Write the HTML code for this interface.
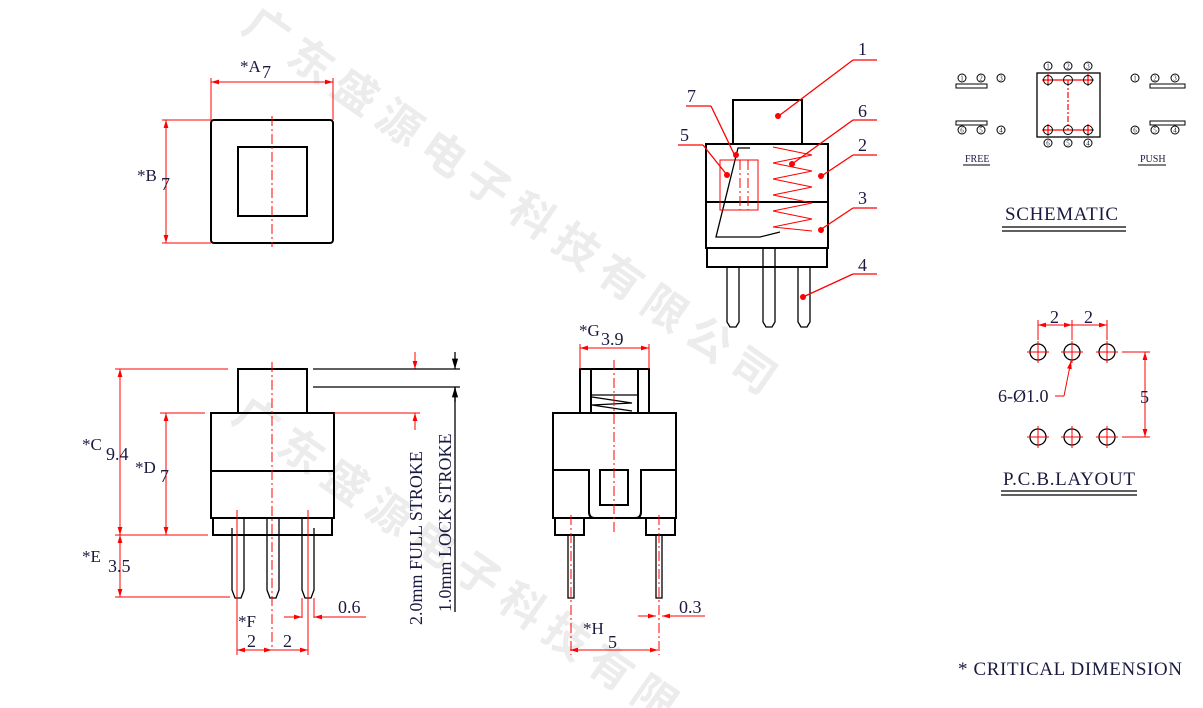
<!DOCTYPE html>
<html><head><meta charset="utf-8"><style>
html,body{margin:0;padding:0;background:#fff;width:1203px;height:708px;overflow:hidden;}
svg{display:block;}
text{font-family:"Liberation Serif",serif;fill:#1a1a40;}
.wm text{font-family:"Noto Sans CJK SC",sans-serif;fill:#ececec;font-weight:bold;}
.k{stroke:#000;stroke-width:2;fill:none;}
.k1{stroke:#000;stroke-width:1.3;fill:none;}
.r{stroke:#f00;stroke-width:1;fill:none;}
.rc{stroke:#f00;stroke-width:1;fill:none;stroke-dasharray:10 3 2 3;}
.rf{fill:#f00;stroke:none;}
</style></head><body>
<svg width="1203" height="708" viewBox="0 0 1203 708" xmlns="http://www.w3.org/2000/svg">
<defs>
<marker id="a" viewBox="0 0 10 10" refX="10" refY="5" markerWidth="8" markerHeight="8" orient="auto-start-reverse"><path d="M0,2 L10,5 L0,8 z" fill="#f00"/></marker>
<marker id="ak" viewBox="0 0 10 10" refX="10" refY="5" markerWidth="8" markerHeight="8" orient="auto-start-reverse"><path d="M0,2 L10,5 L0,8 z" fill="#000"/></marker>
</defs>
<!-- watermark -->
<g class="wm" font-size="44">
<text transform="translate(240,30) rotate(35)">广 东 盛 源 电 子 科 技 有 限 公 司</text>
<text transform="translate(230,420) rotate(35)">广 东 盛 源 电 子 科 技 有 限</text>
</g>

<!-- TOP VIEW -->
<rect class="k" x="211" y="120" width="122" height="123" rx="3"/>
<rect class="k" x="238" y="147" width="69" height="69"/>
<line class="rc" x1="272" y1="116" x2="272" y2="247"/>
<line class="r" x1="211" y1="120" x2="211" y2="78"/><line class="r" x1="333" y1="120" x2="333" y2="78"/>
<line class="r" x1="211" y1="82" x2="333" y2="82" marker-start="url(#a)" marker-end="url(#a)"/>
<text x="240" y="72" font-size="17">*A</text><text x="262" y="78" font-size="18">7</text>
<line class="r" x1="211" y1="120" x2="162" y2="120"/><line class="r" x1="211" y1="243" x2="162" y2="243"/>
<line class="r" x1="166" y1="120" x2="166" y2="243" marker-start="url(#a)" marker-end="url(#a)"/>
<text x="137" y="181" font-size="17">*B</text><text x="161" y="190" font-size="18">7</text>

<!-- FRONT VIEW -->
<rect class="k" x="238" y="369" width="69" height="44"/>
<rect class="k" x="211" y="413" width="123" height="105"/>
<line class="k" x1="211" y1="471" x2="334" y2="471"/>
<rect class="k" x="213" y="518" width="119" height="17"/>
<g class="k1">
<path d="M232,528 L232,590 L235,598 L241,598 L244,590 L244,518"/>
<path d="M267,518 L267,590 L270,598 L276,598 L279,590 L279,518"/>
<path d="M302,518 L302,590 L305,598 L311,598 L314,590 L314,528"/>
</g>
<line class="rc" x1="272" y1="362" x2="272" y2="650"/>
<line class="r" x1="237" y1="510" x2="237" y2="655"/><line class="r" x1="308" y1="510" x2="308" y2="655"/>
<line class="r" x1="302" y1="598" x2="302" y2="618"/><line class="r" x1="314" y1="598" x2="314" y2="618"/>
<line class="r" x1="237" y1="650" x2="272" y2="650" marker-start="url(#a)" marker-end="url(#a)"/>
<line class="r" x1="272" y1="650" x2="308" y2="650" marker-end="url(#a)"/>
<line class="r" x1="284" y1="617" x2="302" y2="617" marker-end="url(#a)"/>
<line class="r" x1="333" y1="617" x2="314" y2="617" marker-end="url(#a)"/>
<line class="r" x1="314" y1="617" x2="366" y2="617"/>
<text x="338" y="613" font-size="18">0.6</text>
<text x="238" y="627" font-size="17">*F</text>
<text x="247" y="647" font-size="18">2</text><text x="283" y="647" font-size="18">2</text>
<line class="r" x1="115" y1="369" x2="228" y2="369"/>
<line class="r" x1="160" y1="413" x2="205" y2="413"/>
<line class="r" x1="115" y1="535" x2="208" y2="535"/>
<line class="r" x1="115" y1="597" x2="230" y2="597"/>
<line class="r" x1="120" y1="369" x2="120" y2="535" marker-start="url(#a)" marker-end="url(#a)"/>
<line class="r" x1="120" y1="535" x2="120" y2="597" marker-start="url(#a)" marker-end="url(#a)"/>
<line class="r" x1="166" y1="413" x2="166" y2="535" marker-start="url(#a)" marker-end="url(#a)"/>
<text x="82" y="450" font-size="17">*C</text><text x="106" y="460" font-size="18">9.4</text>
<text x="135" y="473" font-size="17">*D</text><text x="160" y="482" font-size="18">7</text>
<text x="82" y="562" font-size="17">*E</text><text x="108" y="572" font-size="18">3.5</text>
<!-- strokes -->
<line class="r" x1="313" y1="369" x2="420" y2="369"/>
<line class="r" x1="334" y1="413" x2="420" y2="413"/>
<line class="r" x1="415" y1="352" x2="415" y2="369" marker-end="url(#a)"/>
<line class="r" x1="415" y1="430" x2="415" y2="413" marker-end="url(#a)"/>
<line class="k1" x1="313" y1="369" x2="460" y2="369"/>
<line class="k1" x1="313" y1="387" x2="460" y2="387"/>
<line class="k1" x1="455" y1="352" x2="455" y2="369" marker-end="url(#ak)"/>
<line class="k1" x1="455" y1="402" x2="455" y2="387" marker-end="url(#ak)"/>
<line class="k1" x1="455" y1="387" x2="455" y2="612"/>
<text transform="translate(422,625) rotate(-90)" font-size="18">2.0mm FULL STROKE</text>
<text transform="translate(451,612) rotate(-90)" font-size="18">1.0mm LOCK STROKE</text>

<!-- SIDE VIEW -->
<rect class="k" x="580" y="369" width="69" height="44"/>
<line class="k" x1="591" y1="369" x2="591" y2="413"/><line class="k" x1="638" y1="369" x2="638" y2="413"/>
<line class="k1" x1="591" y1="395" x2="638" y2="395"/>
<path class="k1" d="M592,397 L632,403 L592,405 L632,411"/>
<rect class="k" x="553" y="413" width="123" height="105"/>
<path class="k" d="M553,470 L589,470 L589,512 Q589,518 595,518 L635,518 Q641,518 641,512 L641,470 L676,470"/>
<rect class="k" x="600" y="470" width="28" height="35"/>
<rect class="k" x="555" y="518" width="29" height="17"/>
<rect class="k" x="646" y="518" width="29" height="17"/>
<rect class="k1" x="568" y="535" width="6" height="63"/>
<rect class="k1" x="656" y="535" width="6" height="63"/>
<line class="rc" x1="614" y1="360" x2="614" y2="535"/>
<line class="rc" x1="571" y1="515" x2="571" y2="655"/><line class="rc" x1="659" y1="515" x2="659" y2="655"/>
<line class="r" x1="580" y1="369" x2="580" y2="344"/><line class="r" x1="649" y1="369" x2="649" y2="344"/>
<line class="r" x1="580" y1="348" x2="649" y2="348" marker-start="url(#a)" marker-end="url(#a)"/>
<text x="579" y="336" font-size="17">*G</text><text x="601" y="345" font-size="18">3.9</text>
<line class="r" x1="570" y1="650" x2="658" y2="650" marker-start="url(#a)" marker-end="url(#a)"/>
<text x="583" y="634" font-size="17">*H</text><text x="608" y="648" font-size="18">5</text>
<line class="r" x1="638" y1="616" x2="656" y2="616" marker-end="url(#a)"/>
<line class="r" x1="680" y1="616" x2="662" y2="616" marker-end="url(#a)"/>
<line class="r" x1="662" y1="616" x2="705" y2="616"/>
<text x="679" y="613" font-size="18">0.3</text>

<!-- EXPLODED VIEW -->
<rect class="k" x="733" y="100" width="69" height="44"/>
<rect class="k" x="706" y="144" width="122" height="104"/>
<line class="k" x1="706" y1="202" x2="828" y2="202"/>
<rect class="k" x="707" y="248" width="120" height="19"/>
<g class="k1">
<path d="M727,267 L727,322 L730,327 L736,327 L739,322 L739,267"/>
<path d="M763,248 L763,322 L766,327 L772,327 L775,322 L775,248"/>
<path d="M798,267 L798,322 L801,327 L807,327 L810,322 L810,267"/>
<path d="M750,148 L738,148 L716,237 L760,237 L780,232"/>
</g>
<rect class="r" x="720" y="160" width="38" height="50"/>
<line class="rc" x1="740" y1="160" x2="740" y2="210"/><line class="rc" x1="748" y1="160" x2="748" y2="210"/>
<path class="r" d="M773,147 L812,155 L773,163 L812,171 L773,179 L812,187 L773,195 L812,203 L773,211 L812,219 L773,227 L812,231"/>
<g stroke="#f00" stroke-width="1.3" fill="none">
<line x1="780" y1="115" x2="853" y2="60"/><line x1="853" y1="60" x2="877" y2="60"/>
<line x1="792" y1="164" x2="853" y2="120"/><line x1="853" y1="120" x2="877" y2="120"/>
<line x1="820" y1="177" x2="853" y2="155"/><line x1="853" y1="155" x2="877" y2="155"/>
<line x1="820" y1="230" x2="853" y2="208"/><line x1="853" y1="208" x2="877" y2="208"/>
<line x1="803" y1="297" x2="853" y2="274"/><line x1="853" y1="274" x2="877" y2="274"/>
<line x1="735" y1="156" x2="711" y2="106"/><line x1="711" y1="106" x2="686" y2="106"/>
<line x1="727" y1="175" x2="703" y2="145"/><line x1="703" y1="145" x2="678" y2="145"/>
</g>
<g class="rf"><circle cx="778" cy="116" r="3"/><circle cx="792" cy="164" r="3"/><circle cx="821" cy="176" r="3"/><circle cx="821" cy="230" r="3"/><circle cx="803" cy="297" r="3"/><circle cx="736" cy="155" r="3"/><circle cx="727" cy="175" r="3"/></g>
<g font-size="18"><text x="858" y="55">1</text><text x="858" y="117">6</text><text x="858" y="151">2</text><text x="858" y="204">3</text><text x="858" y="271">4</text><text x="687" y="102">7</text><text x="680" y="141">5</text></g>

<!-- SCHEMATIC -->
<rect x="1037" y="73" width="63" height="64" fill="none" stroke="#000" stroke-width="1.3"/>
<g stroke="#f00" stroke-width="1.2" fill="none">
<line x1="1042" y1="80" x2="1094" y2="80"/><line x1="1042" y1="130" x2="1094" y2="130"/>
<line x1="1068" y1="80" x2="1068" y2="130" stroke-dasharray="6 2 2 2"/>
<line x1="1048" y1="74" x2="1048" y2="86"/><line x1="1088" y1="74" x2="1088" y2="86"/>
<line x1="1048" y1="124" x2="1048" y2="136"/><line x1="1088" y1="124" x2="1088" y2="136"/>
</g>
<g fill="none" stroke="#000" stroke-width="1">
<circle cx="1048" cy="80" r="4.5"/><circle cx="1068" cy="80" r="4.5"/><circle cx="1088" cy="80" r="4.5"/>
<circle cx="1048" cy="130" r="4.5"/><circle cx="1068" cy="130" r="4.5"/><circle cx="1088" cy="130" r="4.5"/>
<circle cx="1048" cy="66" r="4"/><circle cx="1068" cy="66" r="4"/><circle cx="1088" cy="66" r="4"/>
<circle cx="1048" cy="143" r="4"/><circle cx="1068" cy="143" r="4"/><circle cx="1088" cy="143" r="4"/>
<circle cx="962" cy="78" r="4"/><circle cx="981" cy="78" r="4"/><circle cx="1001" cy="78" r="4"/>
<circle cx="962" cy="130" r="4"/><circle cx="981" cy="130" r="4"/><circle cx="1001" cy="130" r="4"/>
<rect x="956" y="84" width="31" height="4"/><rect x="956" y="121" width="31" height="4"/>
<circle cx="1135" cy="78" r="4"/><circle cx="1155" cy="78" r="4"/><circle cx="1175" cy="78" r="4"/>
<circle cx="1135" cy="130" r="4"/><circle cx="1155" cy="130" r="4"/><circle cx="1175" cy="130" r="4"/>
<rect x="1150" y="84" width="35" height="4"/><rect x="1150" y="121" width="35" height="4"/>
</g>
<g font-size="7" text-anchor="middle">
<text x="1048" y="68.5">1</text><text x="1068" y="68.5">2</text><text x="1088" y="68.5">3</text>
<text x="1048" y="145.5">6</text><text x="1068" y="145.5">5</text><text x="1088" y="145.5">4</text>
<text x="962" y="80.5">1</text><text x="981" y="80.5">2</text><text x="1001" y="80.5">3</text>
<text x="962" y="132.5">6</text><text x="981" y="132.5">5</text><text x="1001" y="132.5">4</text>
<text x="1135" y="80.5">1</text><text x="1155" y="80.5">2</text><text x="1175" y="80.5">3</text>
<text x="1135" y="132.5">6</text><text x="1155" y="132.5">5</text><text x="1175" y="132.5">4</text>
</g>
<text x="965" y="162" font-size="10">FREE</text><line x1="963" y1="165" x2="990" y2="165" stroke="#000"/>
<text x="1140" y="162" font-size="10">PUSH</text><line x1="1138" y1="165" x2="1166" y2="165" stroke="#000"/>
<text x="1005" y="220" font-size="19" textLength="113">SCHEMATIC</text>
<line x1="1002" y1="227" x2="1126" y2="227" stroke="#000" stroke-width="1.3"/>
<line x1="1002" y1="231" x2="1126" y2="231" stroke="#000" stroke-width="1.3"/>

<!-- PCB -->
<g fill="none" stroke="#000" stroke-width="1.3">
<circle cx="1038" cy="352" r="8"/><circle cx="1072" cy="352" r="8"/><circle cx="1107" cy="352" r="8"/>
<circle cx="1038" cy="437" r="8"/><circle cx="1072" cy="437" r="8"/><circle cx="1107" cy="437" r="8"/>
</g>
<g stroke="#f00" stroke-width="1" fill="none">
<path d="M1027,352h22M1038,341v22M1061,352h22M1072,341v22M1096,352h22M1107,341v22M1027,437h22M1038,426v22M1061,437h22M1072,426v22M1096,437h22M1107,426v22"/>
<line x1="1038" y1="340" x2="1038" y2="320"/><line x1="1072" y1="340" x2="1072" y2="320"/><line x1="1107" y1="340" x2="1107" y2="320"/>
<line x1="1038" y1="325" x2="1072" y2="325" marker-start="url(#a)" marker-end="url(#a)"/>
<line x1="1072" y1="325" x2="1107" y2="325" marker-end="url(#a)"/>
<line x1="1122" y1="352" x2="1150" y2="352"/><line x1="1122" y1="437" x2="1150" y2="437"/>
<line x1="1145" y1="352" x2="1145" y2="437" marker-start="url(#a)" marker-end="url(#a)"/>
<line x1="1055" y1="396" x2="1064" y2="396"/><line x1="1064" y1="396" x2="1071" y2="361" marker-end="url(#a)"/>
</g>
<text x="1050" y="323" font-size="18">2</text><text x="1084" y="323" font-size="18">2</text>
<text x="1140" y="403" font-size="18">5</text>
<text x="998" y="402" font-size="18">6-Ø1.0</text>
<text x="1003" y="485" font-size="19" textLength="132">P.C.B.LAYOUT</text>
<line x1="1001" y1="491" x2="1137" y2="491" stroke="#000" stroke-width="1.3"/>
<line x1="1001" y1="495" x2="1137" y2="495" stroke="#000" stroke-width="1.3"/>

<text x="958" y="675" font-size="19" textLength="224">* CRITICAL  DIMENSION</text>
</svg>
</body></html>
